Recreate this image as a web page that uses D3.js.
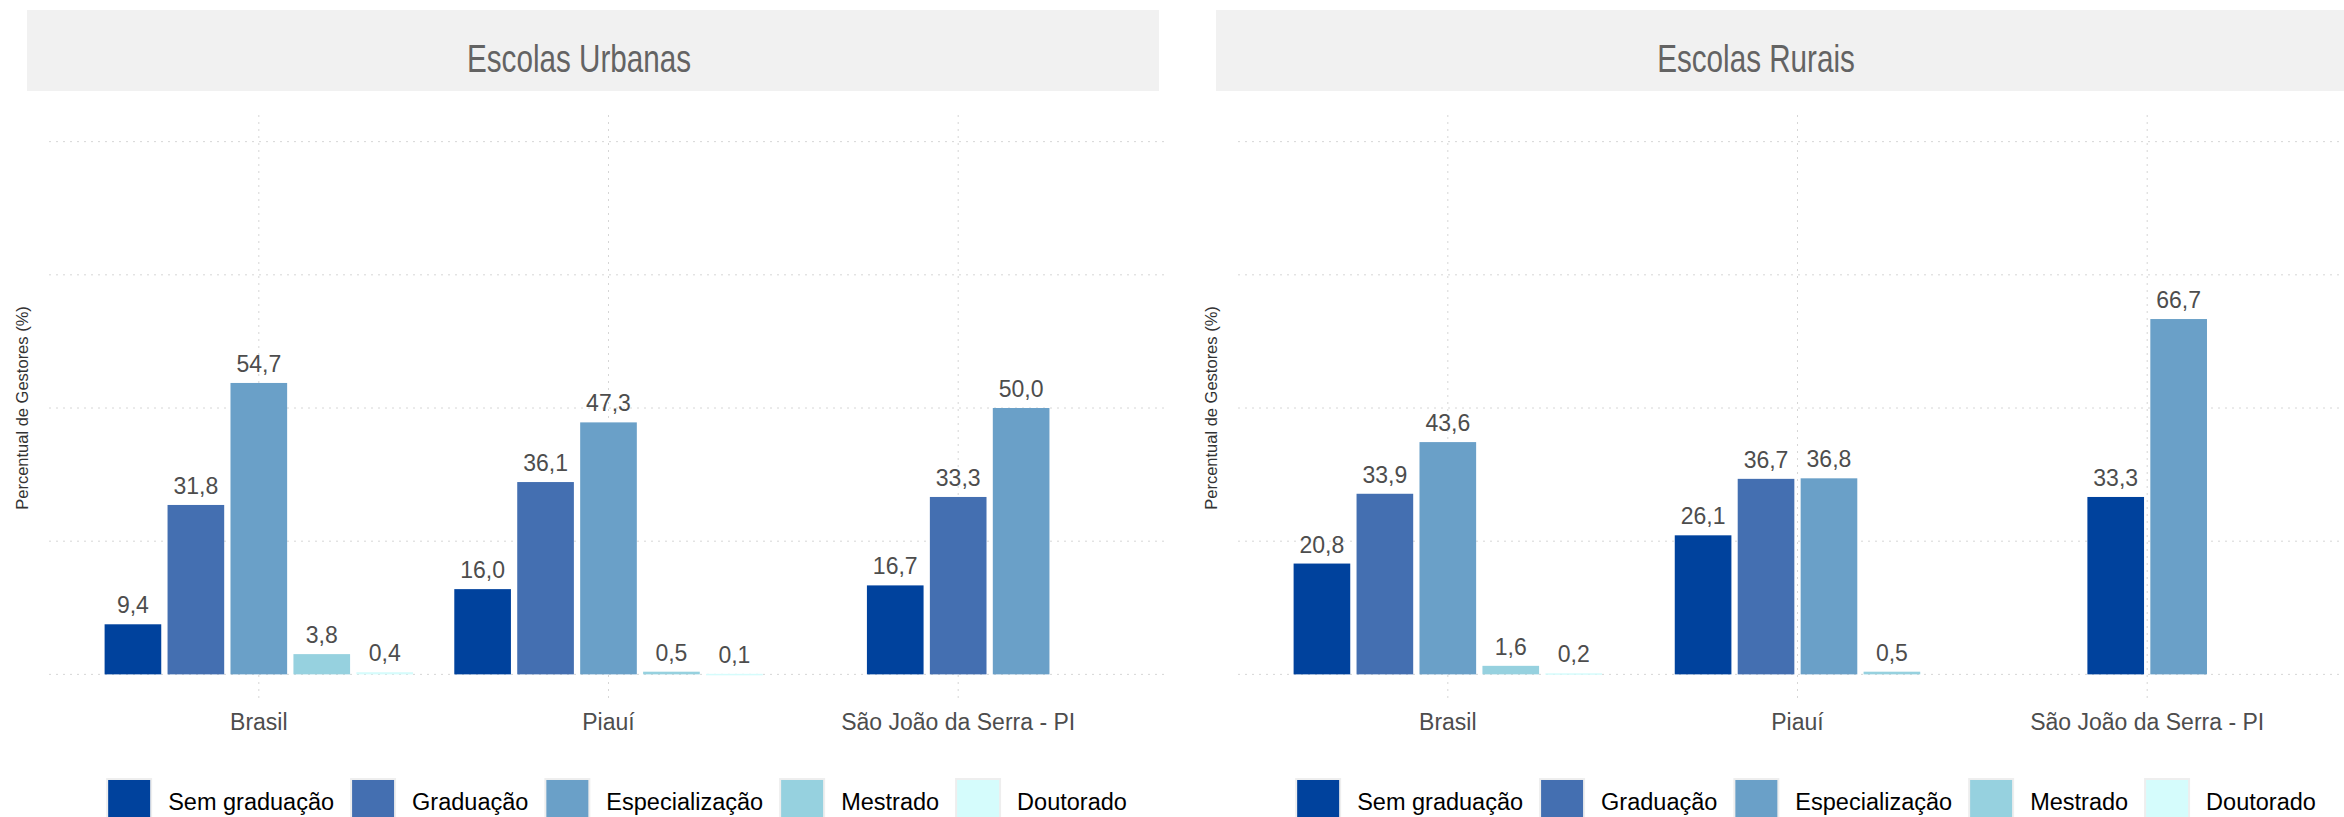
<!DOCTYPE html>
<html>
<head>
<meta charset="utf-8">
<script src="https://cdn.jsdelivr.net/npm/d3@7"></script>
<style>
  body { margin: 0; background: #fff; }
  svg { display: block; }
</style>
</head>
<body>
<div id="grafica"></div>
<script>
  const categorias = ["Brasil", "Piauí", "São João da Serra - PI"];
  const niveis = ["Sem graduação", "Graduação", "Especialização", "Mestrado", "Doutorado"];
  const cores = ["#00429d", "#446fb1", "#6aa0c8", "#96d1df", "#d5fcfc"];
  const yTicks = [0, 25, 50, 75, 100];

  // valores por categoria, na ordem de niveis (null = sem barra)
  const urbanas = [
    [9.4, 31.8, 54.7, 3.8, 0.4],
    [16.0, 36.1, 47.3, 0.5, 0.1],
    [16.7, 33.3, 50.0, null, null]
  ];
  const rurais = [
    [20.8, 33.9, 43.6, 1.6, 0.2],
    [26.1, 36.7, 36.8, 0.5, null],
    [33.3, null, 66.7, null, null]
  ];

  const width = 2344, height = 817;
  const fmt = d3.formatLocale({ decimal: ",", thousands: ".", grouping: [3], currency: ["R$", ""] }).format(".1f");

  const svg = d3.select("#grafica")
    .append("svg")
    .attr("width", width)
    .attr("height", height);

  function desenha(dx, titulo, tituloX, valores) {
    const g = svg.append("g").attr("transform", `translate(${dx},0)`);

    const x = d3.scalePoint().domain(categorias).range([49, 1168]).padding(0.6);
    const y = d3.scaleLinear().domain([-5, 105]).range([701, 115]);
    const slot = 0.9 * x.step() / niveis.length;

    // faixa do titulo
    g.append("rect")
      .attr("x", 27).attr("y", 10)
      .attr("width", 1132).attr("height", 81)
      .attr("fill", "#f1f1f1");
    // fonte condensada: Liberation Sans comprimida na horizontal
    g.append("text")
      .attr("transform", `translate(${tituloX},72) scale(0.78,1)`)
      .attr("text-anchor", "middle")
      .attr("font-family", "'Liberation Sans', Arial, sans-serif")
      .attr("font-size", 38)
      .attr("fill", "#636363")
      .text(titulo);

    // grades
    g.selectAll(".gy")
      .data(yTicks)
      .enter()
      .append("line")
      .attr("x1", 49).attr("x2", 1168)
      .attr("y1", d => y(d)).attr("y2", d => y(d))
      .attr("stroke", "#d6d6d6")
      .attr("stroke-dasharray", "2,5");
    g.selectAll(".gx")
      .data(categorias)
      .enter()
      .append("line")
      .attr("x1", d => x(d)).attr("x2", d => x(d))
      .attr("y1", 115).attr("y2", 701)
      .attr("stroke", "#d6d6d6")
      .attr("stroke-dasharray", "2,5");

    // barras
    categorias.forEach((cat, ci) => {
      const presentes = niveis.map((n, i) => ({ nivel: n, i: i, v: valores[ci][i] }))
        .filter(d => d.v !== null);
      const n = presentes.length;
      const inner = d3.scaleBand()
        .domain(presentes.map(d => d.nivel))
        .range([x(cat) - n * slot / 2, x(cat) + n * slot / 2])
        .paddingInner(0.1)
        .paddingOuter(0.05);

      const gc = g.append("g");
      gc.selectAll("rect")
        .data(presentes)
        .enter()
        .append("rect")
        .attr("x", d => inner(d.nivel))
        .attr("width", inner.bandwidth())
        .attr("y", d => y(d.v))
        .attr("height", d => Math.max(y(0) - y(d.v), 1.5))
        .attr("fill", d => cores[d.i]);

      gc.selectAll("text")
        .data(presentes)
        .enter()
        .append("text")
        .attr("x", d => inner(d.nivel) + inner.bandwidth() / 2)
        .attr("y", d => y(d.v) - 11)
        .attr("text-anchor", "middle")
        .attr("font-family", "'Liberation Sans', Arial, sans-serif")
        .attr("font-size", 23)
        .attr("fill", "#4d4d4d")
        .text(d => fmt(d.v));
    });

    // eixo x
    g.selectAll(".xl")
      .data(categorias)
      .enter()
      .append("text")
      .attr("x", d => x(d))
      .attr("y", 730)
      .attr("text-anchor", "middle")
      .attr("font-family", "'Liberation Sans', Arial, sans-serif")
      .attr("font-size", 23)
      .attr("fill", "#4d4d4d")
      .text(d => d);

    // titulo eixo y
    g.append("text")
      .attr("transform", `translate(22,${y(50)}) rotate(-90)`)
      .attr("text-anchor", "middle")
      .attr("dominant-baseline", "central")
      .attr("font-family", "'Liberation Sans', Arial, sans-serif")
      .attr("font-size", 16.5)
      .attr("fill", "#333")
      .text("Percentual de Gestores (%)");

    // legenda
    const leg = g.append("g");
    let pos = 0;
    niveis.forEach((nv, i) => {
      const item = leg.append("g").attr("transform", `translate(${pos},0)`);
      item.append("rect")
        .attr("x", 0).attr("y", 779)
        .attr("width", 44).attr("height", 44)
        .attr("fill", cores[i])
        .attr("stroke", "#eeeeee")
        .attr("stroke-width", 2);
      const t = item.append("text")
        .attr("x", 61).attr("y", 810)
        .attr("font-family", "'Liberation Sans', Arial, sans-serif")
        .attr("font-size", 23.5)
        .attr("fill", "#000")
        .text(nv);
      pos += 61 + t.node().getComputedTextLength() + 17;
    });
    const total = pos - 17;
    leg.attr("transform", `translate(${617 - total / 2},0)`);
  }

  desenha(0, "Escolas Urbanas", 579, urbanas);
  desenha(1189, "Escolas Rurais", 567, rurais);
</script>
</body>
</html>
